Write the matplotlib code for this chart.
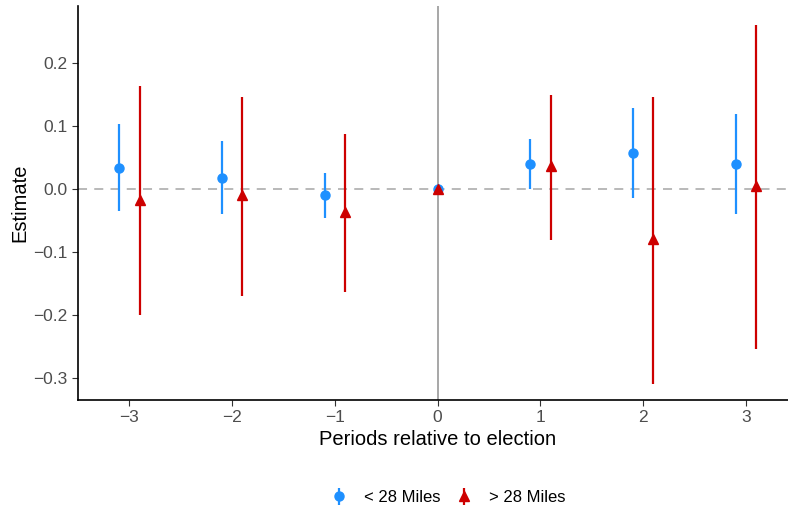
import matplotlib
matplotlib.use("Agg")
import matplotlib.pyplot as plt
import numpy as np

plt.rcParams['font.family'] = ['Liberation Sans', 'DejaVu Sans']

periods = [-3, -2, -1, 0, 1, 2, 3]

# < 28 Miles
near_est = [0.034, 0.018, -0.009, 0.0, 0.040, 0.057, 0.040]
near_lo = [-0.035, -0.040, -0.046, 0.0, 0.000, -0.014, -0.040]
near_hi = [0.103, 0.077, 0.026, 0.0, 0.079, 0.129, 0.119]

# > 28 Miles
far_est = [-0.018, -0.010, -0.037, 0.0, 0.036, -0.079, 0.005]
far_lo = [-0.200, -0.170, -0.164, 0.0, -0.081, -0.310, -0.255]
far_hi = [0.163, 0.147, 0.087, 0.0, 0.150, 0.146, 0.261]

blue = '#1E90FF'
red = '#CD0000'
tick_grey = '#4D4D4D'

fig = plt.figure(figsize=(7.88, 5.12), dpi=100)
ax = fig.add_axes([78 / 788, 112 / 512, 710 / 788, 394 / 512])

ax.axvline(0, color='#A0A0A0', lw=1.3, zorder=1)
ax.axhline(0, color='#B3B3B3', lw=1.3, ls=(0, (5, 4)), zorder=1)

x = np.array(periods, dtype=float)
# no dodge at the reference period
dodge = np.where(x == 0, 0.0, 0.1)
ne = np.array(near_est)
fe = np.array(far_est)
h1 = ax.errorbar(x - dodge, ne, yerr=[ne - np.array(near_lo), np.array(near_hi) - ne],
                 fmt='o', color=blue, ms=6.5, elinewidth=1.6, capsize=0, zorder=3,
                 label='< 28 Miles')
h2 = ax.errorbar(x + dodge, fe, yerr=[fe - np.array(far_lo), np.array(far_hi) - fe],
                 fmt='^', color=red, ms=7.5, elinewidth=1.6, capsize=0, zorder=4,
                 label='> 28 Miles')

ax.set_xlim(-3.5, 3.41)
ax.set_ylim(-0.3355, 0.291)
ax.set_xticks(periods)
ax.set_xticklabels(['\u22123', '\u22122', '\u22121', '0', '1', '2', '3'])
ax.set_yticks([-0.3, -0.2, -0.1, 0.0, 0.1, 0.2])
ax.set_yticklabels(['\u22120.3', '\u22120.2', '\u22120.1', '0.0', '0.1', '0.2'])
ax.tick_params(labelsize=12.5, colors='#333333', labelcolor=tick_grey, length=4)

for s in ['top', 'right']:
    ax.spines[s].set_visible(False)
for s in ['left', 'bottom']:
    ax.spines[s].set_linewidth(1.2)

ax.set_xlabel('Periods relative to election', fontsize=14.5)
ax.xaxis.set_label_coords(0.506, -0.077)
ax.set_ylabel('Estimate', fontsize=14.5, labelpad=3)

fig.legend(handles=[h1, h2], loc='center', bbox_to_anchor=(0.568, 0.028),
           ncol=2, frameon=False, fontsize=12, handlelength=1.2,
           columnspacing=0.8, handletextpad=0.9)

fig.savefig('out.png', dpi=100)
